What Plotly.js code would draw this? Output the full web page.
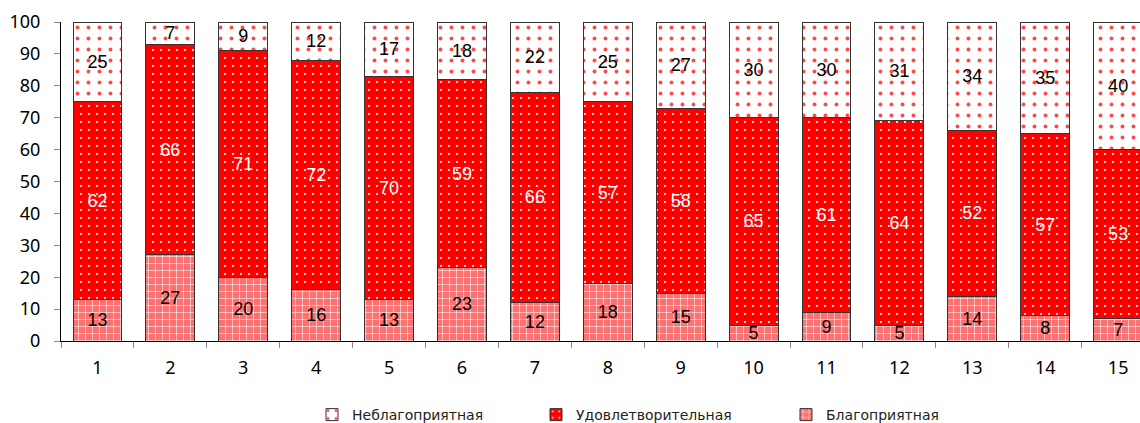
<!DOCTYPE html>
<html><head><meta charset="utf-8">
<script src="https://cdn.plot.ly/plotly-3.0.1.min.js"></script>
<style>html,body{margin:0;padding:0;background:#fff;overflow:hidden}#chart{width:1140px;height:432px}</style>
</head><body><div id="chart"></div>
<script>
const categories = ['1','2','3','4','5','6','7','8','9','10','11','12','13','14','15'];
const favorable = [13,27,20,16,13,23,12,18,15,5,9,5,14,8,7];        // Благоприятная
const satisfactory = [62,66,71,72,70,59,66,57,58,65,61,64,52,57,53]; // Удовлетворительная
const unfavorable = [25,7,9,12,17,18,22,25,27,30,30,31,34,35,40];   // Неблагоприятная
const names = ['Благоприятная','Удовлетворительная','Неблагоприятная'];

const lineStyle = {color:'#333', width:1};
const labelFont = {family:'Liberation Sans, Arial, sans-serif', size:18};

const traces = [
  {type:'bar', x:categories, y:favorable, name:names[0], legend:'legend3',
   text:favorable.map(String), textposition:'inside', insidetextanchor:'middle', textangle:0,
   textfont:Object.assign({color:'#000'}, labelFont),
   marker:{color:'#ff7070', line:lineStyle,
     pattern:{shape:'+', bgcolor:'#ff7070', fgcolor:'#ffffff', size:7, solidity:0.15, fillmode:'replace'}}},
  {type:'bar', x:categories, y:satisfactory, name:names[1], legend:'legend2',
   text:satisfactory.map(String), textposition:'inside', insidetextanchor:'middle', textangle:0,
   textfont:Object.assign({color:'#fff'}, labelFont),
   marker:{color:'#ff0000', line:lineStyle,
     pattern:{shape:'.', bgcolor:'#ff0000', fgcolor:'#ffffff', size:8, solidity:0.06, fillmode:'replace'}}},
  {type:'bar', x:categories, y:unfavorable, name:names[2], legend:'legend',
   text:unfavorable.map(String), textposition:'inside', insidetextanchor:'middle', textangle:0,
   textfont:Object.assign({color:'#000'}, labelFont),
   marker:{color:'#ffffff', line:lineStyle,
     pattern:{shape:'.', bgcolor:'#ffffff', fgcolor:'#ff4a4a', size:11, solidity:0.1, fillmode:'replace'}}}
];

const legBase = {orientation:'h', yanchor:'middle', y:-0.232, xanchor:'left',
  font:{family:'DejaVu Sans, sans-serif', size:14, color:'#222'}, bgcolor:'rgba(0,0,0,0)', itemwidth:30};

const layout = {
  width:1140, height:432,
  margin:{l:61, r:0, t:22, b:91},
  paper_bgcolor:'#fff', plot_bgcolor:'#fff',
  barmode:'stack', bargap:0.33,
  uniformtext:{mode:'show', minsize:18},
  xaxis:{type:'category', range:[-0.5, 14.3], tickson:'boundaries', ticks:'outside', ticklen:6,
    tickcolor:'#888', showline:true, linecolor:'#000', linewidth:1, showgrid:false, zeroline:false,
    ticklabelstandoff:10,
    tickfont:{family:'Noto Sans, sans-serif', size:18, color:'#000'}, automargin:false},
  yaxis:{range:[0,100], dtick:10, ticks:'outside', ticklen:6, tickcolor:'#888',
    showline:true, linecolor:'#000', linewidth:1, showgrid:false, zeroline:false,
    ticklabelstandoff:10,
    tickfont:{family:'Noto Sans, sans-serif', size:18, color:'#000'}, automargin:false},
  legend:Object.assign({}, legBase, {x:(312-61)/1079}),
  legend2:Object.assign({}, legBase, {x:(536-61)/1079}),
  legend3:Object.assign({}, legBase, {x:(786-61)/1079}),
  showlegend:true
};

Plotly.newPlot('chart', traces, layout, {staticPlot:true, displayModeBar:false});
</script></body></html>
